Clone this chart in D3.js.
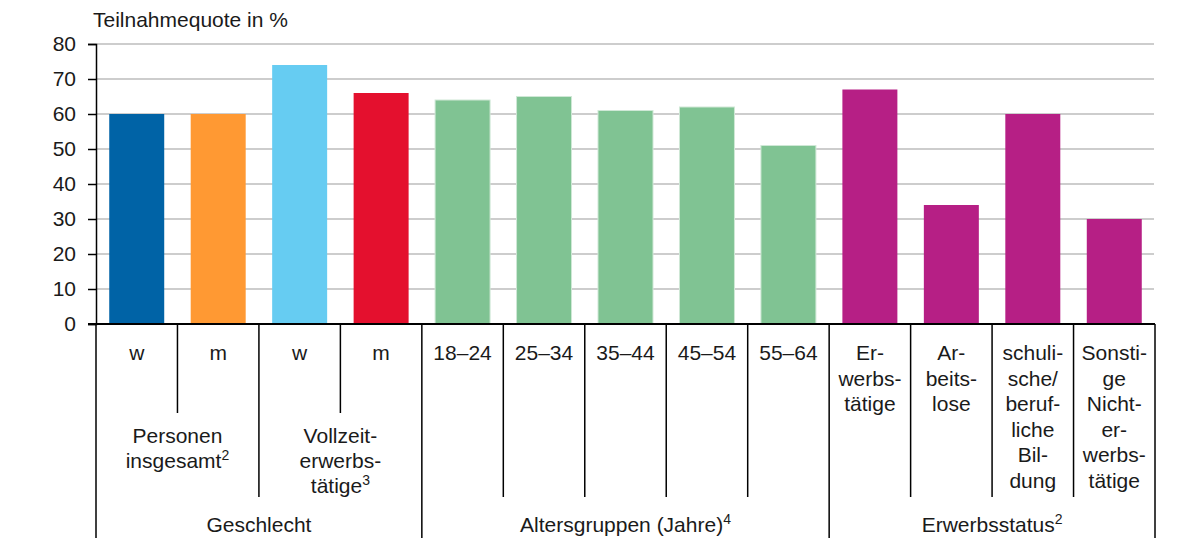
<!DOCTYPE html>
<html>
<head>
<meta charset="utf-8">
<script src="https://cdn.jsdelivr.net/npm/d3@7"></script>
<style>
  body { margin: 0; background: #fff; }
  text { font-family: "Liberation Sans", Arial, sans-serif; fill: #1a1a1a; }
</style>
</head>
<body>
<svg id="chart" width="1182" height="550"></svg>
<script>
// Participation rates by group
const categoryLines = [
  ["w"], ["m"], ["w"], ["m"],
  ["18–24"], ["25–34"], ["35–44"], ["45–54"], ["55–64"],
  ["Er-", "werbs-", "tätige"],
  ["Ar-", "beits-", "lose"],
  ["schuli-", "sche/", "beruf-", "liche", "Bil-", "dung"],
  ["Sonsti-", "ge", "Nicht-", "er-", "werbs-", "tätige"]
];
const values = [60, 60, 74, 66, 64, 65, 61, 62, 51, 67, 34, 60, 30];
const barColors = [
  "#0063a6", "#ff9933", "#66ccf2", "#e4102e",
  "#80c393", "#80c393", "#80c393", "#80c393", "#80c393",
  "#b61f85", "#b61f85", "#b61f85", "#b61f85"
];
const subgroupLines = [["Personen", "insgesamt"], ["Vollzeit-", "erwerbs-", "tätige"]];
const subgroupNotes = ["2", "3"];
const subgroupSpans = [[0, 2], [2, 4]];
const groupLabels = ["Geschlecht", "Altersgruppen (Jahre)", "Erwerbsstatus"];
const groupNotes = ["", "4", "2"];
const groupSpans = [[0, 4], [4, 9], [9, 13]];
const yTicks = [0, 10, 20, 30, 40, 50, 60, 70, 80];
const yTitle = "Teilnahmequote in %";

const svg = d3.select("#chart");
const plotLeft = 96, plotRight = 1155, plotTop = 44, plotBase = 324;
const fontSize = 21;

const x = d3.scaleBand()
  .domain(d3.range(values.length))
  .range([plotLeft, plotRight])
  .paddingInner(0.325)
  .paddingOuter(0.1625);
const y = d3.scaleLinear().domain([0, 80]).range([plotBase, plotTop]);
const edge = i => plotLeft + i * x.step();

// gridlines
svg.append("g")
  .selectAll("line")
  .data(yTicks.filter(t => t > 0))
  .join("line")
  .attr("x1", plotLeft).attr("x2", plotRight - 1)
  .attr("y1", d => y(d)).attr("y2", d => y(d))
  .attr("stroke", "#bdbdbd").attr("stroke-width", 1.5);

// bars
svg.append("g")
  .selectAll("rect")
  .data(values)
  .join("rect")
  .attr("x", (d, i) => x(i))
  .attr("width", x.bandwidth())
  .attr("y", d => y(d))
  .attr("height", d => plotBase - y(d))
  .attr("fill", (d, i) => barColors[i])
  .attr("stroke", (d, i) => barColors[i] === "#80c393" ? "#cfe8d6" : "none")
  .attr("stroke-width", 1);

// y axis
const yAxis = svg.append("g")
  .attr("transform", `translate(${plotLeft},0)`)
  .call(d3.axisLeft(y).tickValues(yTicks).tickSize(8).tickPadding(12).tickFormat(d3.format("d")));
yAxis.select(".domain").attr("stroke", "#000").attr("stroke-width", 1.5);
yAxis.selectAll(".tick line").attr("stroke", "#000").attr("stroke-width", 1.5);
yAxis.selectAll(".tick text")
  .attr("font-size", fontSize)
  .attr("font-family", "\"Liberation Sans\", Arial, sans-serif")
  .attr("fill", "#1a1a1a");

// axis title
svg.append("text")
  .attr("x", 93).attr("y", 27)
  .attr("font-size", fontSize)
  .text(yTitle);

// category separators with depth by hierarchy level
const boundaries = d3.range(values.length + 1);
const depthOf = i => {
  if (groupSpans.some(s => s[0] === i || s[1] === i)) return 538;
  if (subgroupSpans.some(s => s[0] < i && i < s[1])) return 413;
  return 497;
};
svg.append("g")
  .selectAll("line")
  .data(boundaries)
  .join("line")
  .attr("x1", d => edge(d)).attr("x2", d => edge(d))
  .attr("y1", plotBase).attr("y2", d => depthOf(d))
  .attr("stroke", "#000").attr("stroke-width", 1.5);

// baseline
svg.append("line")
  .attr("x1", plotLeft - 8).attr("x2", plotRight)
  .attr("y1", plotBase).attr("y2", plotBase)
  .attr("stroke", "#000").attr("stroke-width", 2);

// category labels
const lineH = 25.5;
svg.append("g")
  .selectAll("text")
  .data(categoryLines)
  .join("text")
  .attr("text-anchor", "middle")
  .attr("font-size", fontSize)
  .each(function(lines, i) {
    const t = d3.select(this);
    lines.forEach((ln, k) => {
      t.append("tspan")
        .attr("x", x(i) + x.bandwidth() / 2)
        .attr("y", 360 + k * lineH)
        .text(ln);
    });
  });

// subgroup labels
svg.append("g")
  .selectAll("text")
  .data(subgroupLines)
  .join("text")
  .attr("text-anchor", "middle")
  .attr("font-size", fontSize)
  .each(function(lines, i) {
    const t = d3.select(this);
    const cx = (edge(subgroupSpans[i][0]) + edge(subgroupSpans[i][1])) / 2;
    lines.forEach((ln, k) => {
      t.append("tspan")
        .attr("x", cx)
        .attr("y", 443 + k * 25)
        .text(ln);
      if (k === lines.length - 1) {
        t.append("tspan").attr("font-size", 14).attr("dy", -8).text(subgroupNotes[i]);
      }
    });
  });

// group labels
svg.append("g")
  .selectAll("text")
  .data(groupLabels)
  .join("text")
  .attr("text-anchor", "middle")
  .attr("font-size", fontSize)
  .attr("x", (d, i) => (edge(groupSpans[i][0]) + edge(groupSpans[i][1])) / 2)
  .attr("y", 532)
  .each(function(d, i) {
    const t = d3.select(this);
    t.append("tspan").text(d);
    if (groupNotes[i]) t.append("tspan").attr("font-size", 14).attr("dy", -8).text(groupNotes[i]);
  });
</script>
</body>
</html>
